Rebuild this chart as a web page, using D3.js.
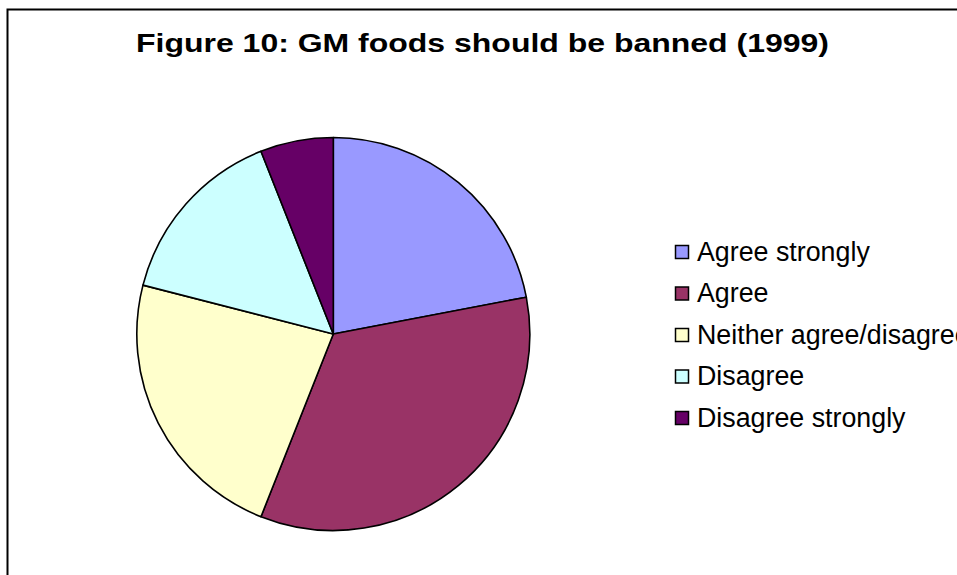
<!DOCTYPE html>
<html>
<head>
<meta charset="utf-8">
<script src="https://cdn.jsdelivr.net/npm/d3@7"></script>
<style>
  html, body { margin: 0; padding: 0; background: #fff; }
  svg { display: block; }
</style>
</head>
<body>
<svg id="chart" width="957" height="575"></svg>
<script>
// Survey responses, percent of respondents
const categories = ["Agree strongly", "Agree", "Neither agree/disagree", "Disagree", "Disagree strongly"];
const values = [22, 34, 23, 15, 6];
const colors = ["#9999FF", "#993366", "#FFFFCC", "#CCFFFF", "#660066"];
const title = "Figure 10: GM foods should be banned (1999)";

const svg = d3.select("#chart");
const font = "'Liberation Sans', Arial, Helvetica, sans-serif";

// Chart area frame (runs off the right and bottom edges)
svg.append("rect")
  .attr("x", 7.5).attr("y", 9.5)
  .attr("width", 1000).attr("height", 1000)
  .attr("fill", "#fff")
  .attr("stroke", "#000").attr("stroke-width", 2);

// Title
svg.append("text")
  .attr("x", 482.5).attr("y", 51.5)
  .attr("text-anchor", "middle")
  .attr("font-family", font)
  .attr("font-weight", "bold")
  .attr("font-size", 26)
  .attr("textLength", 693)
  .attr("lengthAdjust", "spacingAndGlyphs")
  .text(title);

// Pie
const cx = 333.3, cy = 334, r = 196.5;
const color = d3.scaleOrdinal().domain(categories).range(colors);
const pie = d3.pie().sort(null).value(d => d.value);
const arc = d3.arc().innerRadius(0).outerRadius(r);
const data = categories.map((c, i) => ({ name: c, value: values[i] }));

svg.append("g")
  .attr("transform", `translate(${cx},${cy})`)
  .selectAll("path")
  .data(pie(data))
  .join("path")
  .attr("d", arc)
  .attr("fill", d => color(d.data.name))
  .attr("stroke", "#000")
  .attr("stroke-width", 1.6)
  .attr("stroke-linejoin", "round");

// Legend
const legendY = d3.scalePoint().domain(categories).range([252, 418]);
const legend = svg.append("g");
const item = legend.selectAll("g")
  .data(categories)
  .join("g")
  .attr("transform", d => `translate(0,${legendY(d)})`);

item.append("rect")
  .attr("x", 675.5).attr("y", -6.5)
  .attr("width", 13).attr("height", 13)
  .attr("fill", d => color(d))
  .attr("stroke", "#000").attr("stroke-width", 1.5);

item.append("text")
  .attr("x", 697).attr("y", 8.5)
  .attr("font-family", font)
  .attr("font-size", 26.8)
  .attr("fill", "#000")
  .text(d => d);
</script>
</body>
</html>
